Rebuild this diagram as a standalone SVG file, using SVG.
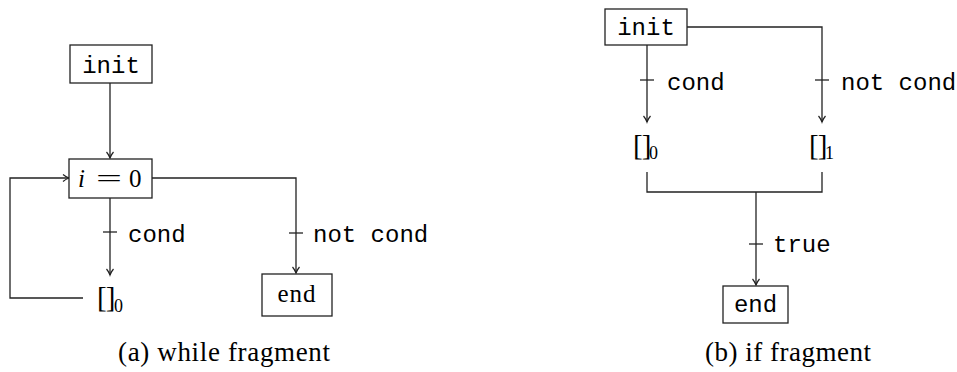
<svg xmlns="http://www.w3.org/2000/svg" width="957" height="372" viewBox="0 0 957 372">
<style>
.box{fill:#fff;stroke:#222;stroke-width:1.3}
.ln{fill:none;stroke:#222;stroke-width:1.3}
.tt{font-family:"Liberation Mono",monospace;font-size:24px;fill:#000}
.rm{font-family:"Liberation Serif",serif;font-size:25px;fill:#000}
.br{font-family:"Liberation Serif",serif;font-size:29px;fill:#000;letter-spacing:-1px}
.cap{font-family:"Liberation Serif",serif;font-size:27px;fill:#000}
.sub{font-family:"Liberation Serif",serif;font-size:18px;fill:#000}
</style>
<defs>
<marker id="ah" markerWidth="10" markerHeight="10" refX="8" refY="5" orient="auto" markerUnits="userSpaceOnUse">
<path d="M2,1.5 Q5,4 8,5 Q5,6 2,8.5" fill="none" stroke="#222" stroke-width="1.2"/>
</marker>
</defs>
<g id="connectors">
<line class="ln" x1="110" y1="83" x2="110" y2="158" marker-end="url(#ah)"/>
<line class="ln" x1="110" y1="198" x2="110" y2="275" marker-end="url(#ah)"/>
<line class="ln" x1="103" y1="232" x2="117" y2="232"/>
<polyline class="ln" points="152,178 296,178 296,273" marker-end="url(#ah)"/>
<line class="ln" x1="289" y1="233" x2="303" y2="233"/>
<polyline class="ln" points="83,298 10,298 10,178 69,178" marker-end="url(#ah)"/>
<line class="ln" x1="647" y1="45" x2="647" y2="122" marker-end="url(#ah)"/>
<line class="ln" x1="640" y1="80" x2="654" y2="80"/>
<polyline class="ln" points="687,27 822,27 822,122" marker-end="url(#ah)"/>
<line class="ln" x1="815" y1="80" x2="829" y2="80"/>
<polyline class="ln" points="647,172 647,192 822,192 822,172"/>
<line class="ln" x1="756" y1="192" x2="756" y2="285" marker-end="url(#ah)"/>
<line class="ln" x1="749" y1="244" x2="763" y2="244"/>
<text class="tt" x="128" y="242">cond</text>
<text class="tt" x="313" y="242">not cond</text>
<text class="tt" x="667" y="90">cond</text>
<text class="tt" x="841" y="90">not cond</text>
<text class="tt" x="773" y="252">true</text>
</g>
<g id="a-init">
<rect class="box" x="70" y="45" width="82" height="38"/>
<text class="tt" x="111" y="73" text-anchor="middle">init</text>
</g>
<g id="a-i0">
<rect class="box" x="69" y="159" width="83" height="39"/>
<text class="rm" x="78" y="187"><tspan font-style="italic">i</tspan></text>
<text class="rm" x="96" y="187" textLength="26" lengthAdjust="spacingAndGlyphs">=</text>
<text class="rm" x="129" y="187">0</text>
</g>
<g id="a-hole0">
<text class="br" x="97" y="307">[]</text>
<text class="sub" x="114" y="312">0</text>
</g>
<g id="a-end">
<rect class="box" x="262" y="274" width="70" height="42"/>
<text class="rm" x="297" y="302" text-anchor="middle" font-size="28" letter-spacing="1">end</text>
</g>
<g id="b-init">
<rect class="box" x="605" y="9" width="82" height="36"/>
<text class="tt" x="646" y="35" text-anchor="middle">init</text>
</g>
<g id="b-hole0">
<text class="br" x="633" y="155">[]</text>
<text class="sub" x="649" y="159">0</text>
</g>
<g id="b-hole1">
<text class="br" x="809" y="155">[]</text>
<text class="sub" x="825" y="159">1</text>
</g>
<g id="b-end">
<rect class="box" x="723" y="286" width="65" height="37"/>
<text class="tt" x="755.5" y="312" text-anchor="middle">end</text>
</g>
<text class="cap" x="118" y="361" textLength="212" lengthAdjust="spacing">(a) while fragment</text>
<text class="cap" x="705" y="361" textLength="166" lengthAdjust="spacing">(b) if fragment</text>
</svg>
